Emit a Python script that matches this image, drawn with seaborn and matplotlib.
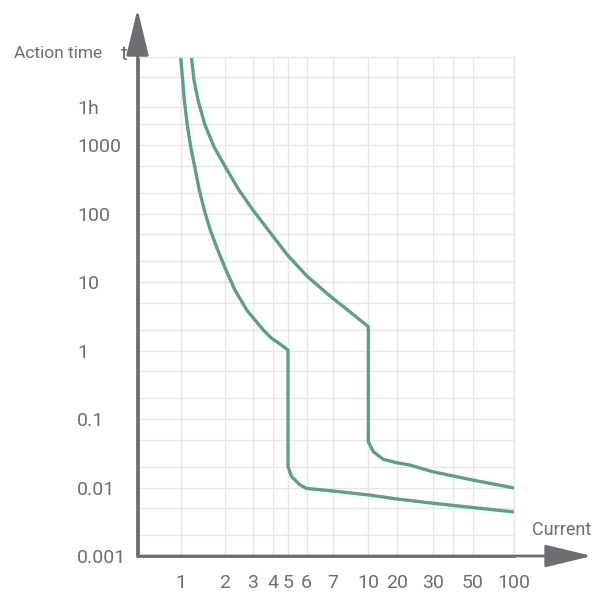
import numpy as np
import pandas as pd
import matplotlib
matplotlib.use("Agg")
import matplotlib.pyplot as plt
from matplotlib.ticker import NullFormatter
import seaborn as sns

# lower curve
cur_1 = [1.0, 1.035, 1.062, 1.113, 1.174, 1.251, 1.345, 1.455, 1.599, 1.797, 2.043, 2.32, 2.745,
         3.49, 3.92, 4.46, 5.0, 5.0, 5.18, 5.62, 6.0, 7.0, 10, 20, 30, 50, 100]
t_1 = [20000, 8895, 4540, 1960, 945, 482, 220, 112, 57.4, 29.3, 15.0, 7.64, 3.90,
       1.99, 1.52, 1.24, 1.02, 0.0201, 0.0144, 0.0109, 0.0097, 0.0089, 0.0078, 0.0068, 0.0059, 0.0051, 0.0044]

# upper curve
cur_2 = [1.185, 1.237, 1.317, 1.471, 1.695, 2.043, 2.458, 3.0, 3.79, 4.96, 6.01, 6.89, 8.24,
         10, 10, 11.3, 14.4, 20, 23.2, 30, 50, 100]
t_2 = [20000, 8895, 4540, 1960, 945, 461, 220, 112, 55.6, 24.8, 12.2, 6.25, 3.77,
       2.23, 0.0467, 0.0334, 0.0258, 0.0230, 0.0213, 0.0170, 0.01285, 0.00985]

x_ticks = [1, 2, 3, 4, 5, 6, 7, 10, 20, 30, 50, 100]
x_minor = [40]
y_ticks = [0.001, 0.01, 0.1, 1, 10, 100, 1000, 3600]
y_labels = ["0.001", "0.01", "0.1", "1", "10", "100", "1000", "1h"]
y_minor = [0.002, 0.005, 0.02, 0.05, 0.2, 0.5, 2, 5, 20, 50, 200, 500, 2000, 10000]

# the drawing spaces the current axis by hand, not as a true log axis
x_scale_vals = [0.5, 1, 2, 3, 4, 5, 6, 7, 10, 20, 30, 40, 50, 100]
x_scale_pos = [137.5, 180.5, 224.5, 253, 272.7, 288, 306.7, 332.7, 368.3, 396.7, 432.7, 452.7, 472.7, 514]
log_vals = np.log10(x_scale_vals)


def fwd(x):
    with np.errstate(divide="ignore", invalid="ignore"):
        return np.interp(np.log10(np.asarray(x, dtype=float)), log_vals, x_scale_pos)


def inv(p):
    return 10 ** np.interp(np.asarray(p, dtype=float), x_scale_pos, log_vals)


line_color = "#5a9f90"
axis_color = "#6d6e71"
grid_color = "#e6e6e6"

sns.set_theme(style="white")
plt.rcParams["font.family"] = ["Roboto", "DejaVu Sans"]

df1 = pd.DataFrame({"current": cur_1, "time": t_1})
df2 = pd.DataFrame({"current": cur_2, "time": t_2})

W, H = 601, 593
fig = plt.figure(figsize=(W / 100, H / 100), dpi=100)
ax = fig.add_axes([137.5 / W, (H - 556) / H, (514 - 137.5) / W, (556 - 57) / H])

sns.lineplot(data=df1, x="current", y="time", sort=False, estimator=None,
             color=line_color, lw=2.4, ax=ax)
sns.lineplot(data=df2, x="current", y="time", sort=False, estimator=None,
             color=line_color, lw=2.4, ax=ax)

ax.set_xscale("function", functions=(fwd, inv))
ax.set_yscale("log")
ax.set_xlim(0.5, 100)
ax.set_ylim(0.001, 19300)

ax.set_xticks(x_ticks, [str(v) for v in x_ticks])
ax.set_xticks(x_minor, minor=True)
ax.xaxis.set_minor_formatter(NullFormatter())
ax.set_yticks(y_ticks, y_labels)
ax.set_yticks(y_minor, minor=True)
ax.yaxis.set_minor_formatter(NullFormatter())

ax.grid(True, which="both", color=grid_color, lw=1.0)
ax.set_axisbelow(True)
ax.tick_params(which="both", length=0, labelsize=14, colors=axis_color)
ax.tick_params(axis="x", pad=13)
ax.tick_params(axis="y", pad=43.5)
plt.setp(ax.get_yticklabels(), ha="left")
ax.set_xlabel("")
ax.set_ylabel("")

for s in ["left", "bottom"]:
    ax.spines[s].set_color(axis_color)
    ax.spines[s].set_linewidth(2)
for s in ["top", "right"]:
    ax.spines[s].set_color(grid_color)
    ax.spines[s].set_linewidth(1)

arrow_kw = dict(arrowstyle="-|>,head_length=2.9,head_width=0.7", color=axis_color, lw=2,
                shrinkA=0, shrinkB=0, mutation_scale=10)
ax.annotate("", xy=(1.207, 0), xytext=(0, 0), xycoords="axes fraction",
            textcoords="axes fraction", arrowprops=arrow_kw, annotation_clip=False)
ax.annotate("", xy=(0, 1.096), xytext=(0, 0), xycoords="axes fraction",
            textcoords="axes fraction", arrowprops=arrow_kw, annotation_clip=False)

fig.text(14 / W, 1 - 54 / H, "Action time", ha="left", va="center", fontsize=12.5, color=axis_color)
fig.text(124 / W, 1 - 54 / H, "t", ha="center", va="center", fontsize=15, color=axis_color)
fig.text(562 / W, 1 - 530 / H, "Current", ha="center", va="center", fontsize=13, color=axis_color)

fig.savefig("out.png", dpi=100)
